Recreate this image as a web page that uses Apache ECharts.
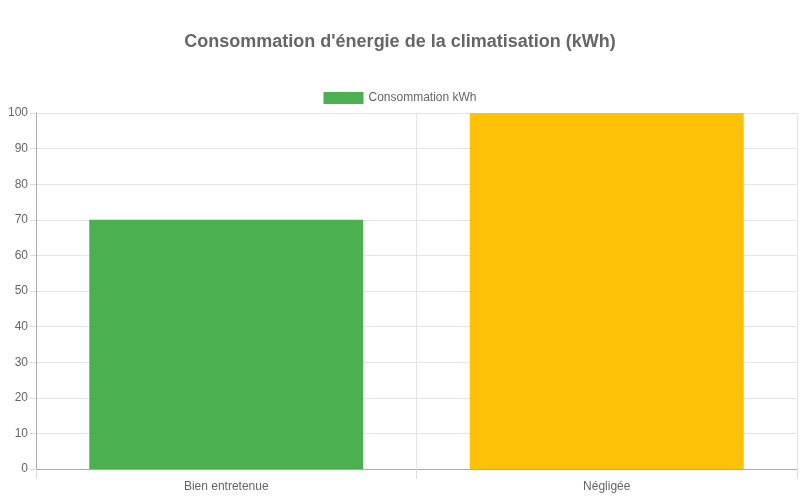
<!DOCTYPE html>
<html>
<head>
<meta charset="utf-8">
<script src="https://cdn.jsdelivr.net/npm/echarts@6/dist/echarts.min.js"></script>
<style>
  html, body { margin: 0; padding: 0; background: #fff; }
  #chart { width: 800px; height: 500px; }
</style>
</head>
<body>
<div id="chart"></div>
<script>
const categories = ['Bien entretenue', 'Négligée'];
const values = [70, 100];
const barColors = ['#4CAF50', '#FFC107'];
const seriesName = 'Consommation kWh';

const font = '"Liberation Sans", Arial, sans-serif';

const chart = echarts.init(document.getElementById('chart'), null, {renderer: 'canvas'});

chart.setOption({
  animation: false,
  title: {
    text: "Consommation d'énergie de la climatisation (kWh)",
    left: 'center',
    top: 28,
    textStyle: {fontFamily: font, fontSize: 18, fontWeight: 'bold', color: '#666'},
  },
  legend: {
    top: 87,
    left: 'center',
    icon: 'rect',
    itemWidth: 40,
    itemHeight: 12,
    itemGap: 10,
    textStyle: {fontFamily: font, fontSize: 12, color: '#666'},
    data: [seriesName],
  },
  grid: {left: 36, right: 3, top: 113, bottom: 31, containLabel: false},
  xAxis: {
    type: 'category',
    data: categories,
    boundaryGap: true,
    axisLine: {show: true, lineStyle: {color: '#aaa'}},
    axisTick: {show: true, length: 10, lineStyle: {color: '#ddd'}},
    splitLine: {show: true, lineStyle: {color: '#e5e5e5'}},
    axisLabel: {fontFamily: font, fontSize: 12, color: '#666', margin: 12},
  },
  yAxis: {
    type: 'value',
    min: 0,
    max: 100,
    interval: 10,
    axisLine: {show: true, lineStyle: {color: '#aaa'}},
    axisTick: {show: true, length: 6, lineStyle: {color: '#ddd'}},
    splitLine: {show: true, lineStyle: {color: '#e5e5e5'}},
    axisLabel: {fontFamily: font, fontSize: 12, color: '#666', margin: 8},
  },
  series: [{
    name: seriesName,
    type: 'bar',
    barWidth: '72%',
    itemStyle: {color: barColors[0]},
    data: values.map((v, i) => ({value: v, itemStyle: {color: barColors[i]}})),
  }],
});
</script>
</body>
</html>
